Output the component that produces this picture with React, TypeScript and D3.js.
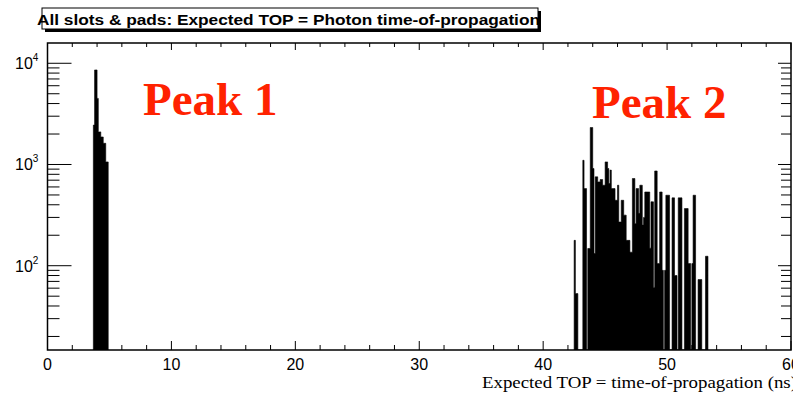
import React from "react";
import * as d3 from "d3";

const W = 793;
const H = 393;

const titleText = "All slots & pads: Expected TOP = Photon time-of-propagation";
const xAxisTitle = "Expected TOP = time-of-propagation (ns)";
const peakLabels = ["Peak 1", "Peak 2"];

const xDomain: [number, number] = [0, 60];
const xMajorTicks = [0, 10, 20, 30, 40, 50, 60];
const xMinorStep = 2;
const yDomain: [number, number] = [14.7, 15860];
const yDecades = [10, 100, 1000, 10000];
const yLabelExponents = [2, 3, 4];

const binWidth = 0.1;
const peak1Start = 3.7;
const peak1Counts = [2450, 8590, 8590, 4500, 2100, 2100, 1870, 1870, 1620, 1620, 1060, 1060];

const peak2Start = 42.5;
const peak2Counts = [
  178, 53, 53, 0, 0, 0, 0, 1100, 578, 578,
  0, 148, 148, 2320, 2320, 912, 132, 755, 755, 673,
  673, 710, 710, 624, 624, 1060, 1060, 912, 648, 880,
  578, 578, 578, 443, 443, 624, 270, 270, 443, 443,
  316, 316, 178, 178, 178, 136, 136, 727, 727, 260,
  578, 578, 329, 624, 624, 252, 300, 535, 535, 535,
  535, 149, 428, 428, 61, 863, 863, 105, 105, 535,
  535, 90, 0, 90, 497, 497, 497, 0, 0, 468,
  468, 80, 80, 0, 468, 468, 468, 0, 0, 367,
  367, 367, 105, 105, 0, 105, 497, 497, 0, 0,
  73, 73, 73, 0, 0, 0, 124, 124,
];

const L = 47.5;
const R = 791;
const T = 43;
const B = 350;

export default function App() {
  const x = d3.scaleLinear().domain(xDomain).range([L, R]);
  const y = d3.scaleLog().domain(yDomain).range([B, T]);

  const histPath = (start: number, counts: number[]) => {
    const pts = counts.map((v, i) => ({ t: start + i * binWidth, v }));
    pts.push({ t: start + counts.length * binWidth, v: 0 });
    const area = d3
      .area<{ t: number; v: number }>()
      .x((d) => x(d.t))
      .y0(B)
      .y1((d) => (d.v > 0 ? y(d.v) : B))
      .curve(d3.curveStepAfter);
    return area(pts) || "";
  };

  const xMinor = d3.range(xDomain[0], xDomain[1] + 0.001, xMinorStep).filter((v) => v % 10 !== 0);

  const yMinor: number[] = [];
  yDecades.forEach((d) => {
    for (let m = 2; m <= 9; m++) {
      const v = m * d;
      if (v >= yDomain[0] && v <= yDomain[1]) yMinor.push(v);
    }
  });
  const yMajor = yLabelExponents.map((e) => Math.pow(10, e));

  return (
    <svg
      width={W}
      height={H}
      style={{ position: "absolute", left: 0, top: 0, background: "#fff" }}
    >
      <defs>
        <clipPath id="plotclip">
          <rect x={L} y={T} width={R - L} height={B - T} />
        </clipPath>
      </defs>
      <rect x={0} y={0} width={W} height={H} fill="#fff" />

      {/* title box */}
      <rect x={45} y={11} width={496} height={21} fill="#000" />
      <rect x={42} y={8} width={496} height={21} fill="#fff" stroke="#000" strokeWidth={1} />
      <text
        x={37}
        y={25}
        fontFamily="Liberation Sans, Arial, sans-serif"
        fontWeight="bold"
        fontSize={14}
        textLength={503}
        lengthAdjust="spacingAndGlyphs"
        fill="#000"
      >
        {titleText}
      </text>

      {/* histogram */}
      <g clipPath="url(#plotclip)">
        <path d={histPath(peak1Start, peak1Counts)} fill="#000" stroke="#000" strokeWidth={0.6} />
        <path d={histPath(peak2Start, peak2Counts)} fill="#000" stroke="#000" strokeWidth={0.6} />
      </g>

      {/* frame */}
      <rect x={L} y={T} width={R - L} height={B - T} fill="none" stroke="#000" strokeWidth={1.5} />

      {/* x ticks */}
      {xMajorTicks.map((v) => (
        <g key={"xm" + v}>
          <line x1={x(v)} x2={x(v)} y1={B} y2={B - 9} stroke="#000" strokeWidth={1} />
          <line x1={x(v)} x2={x(v)} y1={T} y2={T + 7} stroke="#000" strokeWidth={1} />
          <text
            x={x(v)}
            y={370}
            textAnchor="middle"
            fontFamily="Liberation Sans, Arial, sans-serif"
            fontSize={16}
            fill="#000"
          >
            {v}
          </text>
        </g>
      ))}
      {xMinor.map((v) => (
        <g key={"xn" + v}>
          <line x1={x(v)} x2={x(v)} y1={B} y2={B - 5} stroke="#000" strokeWidth={1} />
          <line x1={x(v)} x2={x(v)} y1={T} y2={T + 4} stroke="#000" strokeWidth={1} />
        </g>
      ))}

      {/* y ticks */}
      {yMajor.map((v, i) => (
        <g key={"ym" + v}>
          <line x1={L} x2={L + 24} y1={y(v)} y2={y(v)} stroke="#000" strokeWidth={1} />
          <line x1={R} x2={R - 13} y1={y(v)} y2={y(v)} stroke="#000" strokeWidth={1} />
          <text
            x={15}
            y={y(v) + 6}
            fontFamily="Liberation Sans, Arial, sans-serif"
            fontSize={16}
            fill="#000"
          >
            10
            <tspan dy={-8} fontSize={10}>
              {yLabelExponents[i]}
            </tspan>
          </text>
        </g>
      ))}
      {yMinor.map((v) => (
        <g key={"yn" + v}>
          <line x1={L} x2={L + 12} y1={y(v)} y2={y(v)} stroke="#000" strokeWidth={1} />
          <line x1={R} x2={R - 10} y1={y(v)} y2={y(v)} stroke="#000" strokeWidth={1} />
        </g>
      ))}

      {/* axis title */}
      <text
        x={797}
        y={388}
        textAnchor="end"
        fontFamily="Liberation Serif, Times New Roman, serif"
        fontSize={17}
        textLength={315}
        lengthAdjust="spacingAndGlyphs"
        fill="#000"
      >
        {xAxisTitle}
      </text>

      {/* peak labels */}
      <text
        x={143}
        y={115}
        fontFamily="Liberation Serif, Times New Roman, serif"
        fontWeight="bold"
        fontSize={47}
        fill="#ff2200"
      >
        {peakLabels[0]}
      </text>
      <text
        x={592}
        y={118}
        fontFamily="Liberation Serif, Times New Roman, serif"
        fontWeight="bold"
        fontSize={47}
        fill="#ff2200"
      >
        {peakLabels[1]}
      </text>
    </svg>
  );
}
